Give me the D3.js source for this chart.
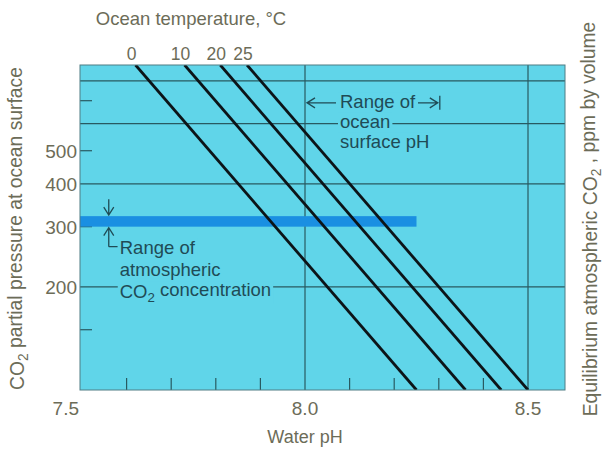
<!DOCTYPE html>
<html>
<head>
<meta charset="utf-8">
<script src="https://cdn.jsdelivr.net/npm/d3@7/dist/d3.min.js"></script>
<style>
  html, body { margin: 0; padding: 0; background: #ffffff; }
  svg { display: block; font-family: "Liberation Sans", Arial, Helvetica, sans-serif; }
</style>
</head>
<body>
<svg id="chart" width="604" height="451"></svg>
<script>
// ---------------- data ----------------
const temperatureLabels = ["0", "10", "20", "25"];
// pH at which each isotherm meets pCO2 = 890 (top edge) and pCO2 = 100 (bottom edge)
const phAtHighCO2 = [7.62, 7.73, 7.81, 7.87];
const phAtLowCO2  = [8.25, 8.36, 8.44, 8.50];
const co2High = 890;
const co2Low = 100;

const yTickLabels = [200, 300, 400, 500];
const yGridValues = [200, 400, 600, 800];
const yMinorTicks = [150, 300, 500, 700];

const xTickLabels = [7.5, 8.0, 8.5];
const xGridValues = [8.0, 8.5];
const xMinorTicks = [7.6, 7.7, 7.8, 7.9, 8.1, 8.2, 8.3, 8.4];

const atmosphericBand = [300, 322];   // ppm
const atmosphericBandPhEnd = 8.25;
const atmosphericArrowPh = 7.56;
const oceanPhRange = [8.0, 8.3];
const oceanArrowCO2 = 690;

// ---------------- layout ----------------
const svg = d3.select("#chart");
const frame = { left: 80, right: 565, top: 65, bottom: 390 };

const x = d3.scaleLinear().domain([7.5, 8.5]).range([82, 528]);
const y = d3.scaleLog().domain([co2Low, co2High]).range([frame.bottom, frame.top]);

const C = {
  fill: "#60d5e9",
  grid: "#285a61",
  band: "#1a8fe2",
  line: "#0c1418",
  note: "#1f4b56",
  label: "#6c6c58"
};

// background
svg.append("rect")
  .attr("x", frame.left).attr("y", frame.top)
  .attr("width", frame.right - frame.left).attr("height", frame.bottom - frame.top)
  .attr("fill", C.fill);

svg.append("clipPath").attr("id", "plotclip")
  .append("rect")
  .attr("x", frame.left).attr("y", frame.top)
  .attr("width", frame.right - frame.left).attr("height", frame.bottom - frame.top);

const plot = svg.append("g").attr("clip-path", "url(#plotclip)");

// horizontal grid lines
plot.selectAll("line.hgrid").data(yGridValues).join("line")
  .attr("class", "hgrid")
  .attr("x1", frame.left).attr("x2", frame.right)
  .attr("y1", d => y(d)).attr("y2", d => y(d))
  .attr("stroke", C.grid).attr("stroke-width", 1.2);

// vertical grid lines
plot.selectAll("line.vgrid").data(xGridValues).join("line")
  .attr("class", "vgrid")
  .attr("x1", d => x(d)).attr("x2", d => x(d))
  .attr("y1", frame.top).attr("y2", frame.bottom)
  .attr("stroke", C.grid).attr("stroke-width", 1.2);

// minor ticks
plot.selectAll("line.ymin").data(yMinorTicks).join("line")
  .attr("x1", frame.left).attr("x2", frame.left + 12)
  .attr("y1", d => y(d)).attr("y2", d => y(d))
  .attr("stroke", C.grid).attr("stroke-width", 1.2);
plot.selectAll("line.xmin").data(xMinorTicks).join("line")
  .attr("x1", d => x(d)).attr("x2", d => x(d))
  .attr("y1", frame.bottom).attr("y2", frame.bottom - 12)
  .attr("stroke", C.grid).attr("stroke-width", 1.2);

// atmospheric CO2 band
plot.append("rect")
  .attr("x", frame.left)
  .attr("y", y(atmosphericBand[1]))
  .attr("width", x(atmosphericBandPhEnd) - frame.left)
  .attr("height", y(atmosphericBand[0]) - y(atmosphericBand[1]))
  .attr("fill", C.band);

// isotherm lines
const lineData = temperatureLabels.map((t, i) => ({
  t, pts: [[phAtHighCO2[i], co2High], [phAtLowCO2[i], co2Low]]
}));
const lineGen = d3.line().x(d => x(d[0])).y(d => y(d[1]));
plot.selectAll("path.iso").data(lineData).join("path")
  .attr("class", "iso")
  .attr("d", d => lineGen(d.pts))
  .attr("fill", "none").attr("stroke", C.line).attr("stroke-width", 2.8);

// frame border
svg.append("rect")
  .attr("x", frame.left).attr("y", frame.top)
  .attr("width", frame.right - frame.left).attr("height", frame.bottom - frame.top)
  .attr("fill", "none").attr("stroke", "#4f7d84").attr("stroke-width", 1);

// ---------------- annotations ----------------
const ann = svg.append("g").attr("fill", C.note).attr("font-size", 18.5);

function noteText(g, xPos, yPos, parts) {
  const t = g.append("text").attr("x", xPos).attr("y", yPos);
  let pendingDy = null;
  parts.forEach(p => {
    if (p.sub) {
      t.append("tspan").attr("font-size", "0.72em").attr("dy", "0.3em").text(p.text);
      pendingDy = "-0.3em";
    } else {
      const ts = t.append("tspan").text(p.text);
      if (pendingDy) { ts.attr("dy", pendingDy); pendingDy = null; }
    }
  });
  return t;
}
function withBackground(g, t) {
  const b = t.node().getBBox();
  g.insert("rect", () => t.node())
    .attr("x", b.x - 2).attr("y", b.y + 2)
    .attr("width", b.width + 4).attr("height", b.height - 3)
    .attr("fill", C.fill);
}

// ocean pH range
const oy = y(oceanArrowCO2);
const oceanG = ann.append("g");
[["Range of", 0], ["ocean", 1], ["surface pH", 2]].forEach(([s, i]) => {
  const t = noteText(oceanG, 340, oy + 5 + i * 20, [{ text: s }]);
  withBackground(oceanG, t);
});
const arrowStroke = { stroke: C.note, "stroke-width": 1.3, fill: "none" };
function applyAttrs(sel, o) { Object.entries(o).forEach(([k, v]) => sel.attr(k, v)); return sel; }
applyAttrs(ann.append("path").attr("d",
  `M${x(oceanPhRange[0]) + 2},${oy} L${336},${oy}
   M${x(oceanPhRange[0]) + 10},${oy - 5} L${x(oceanPhRange[0]) + 2},${oy} L${x(oceanPhRange[0]) + 10},${oy + 5}`), arrowStroke);
applyAttrs(ann.append("path").attr("d",
  `M${418},${oy} L${x(oceanPhRange[1]) - 1},${oy}
   M${x(oceanPhRange[1]) - 9},${oy - 5} L${x(oceanPhRange[1]) - 1},${oy} L${x(oceanPhRange[1]) - 9},${oy + 5}
   M${x(oceanPhRange[1]) + 1},${oy - 7} L${x(oceanPhRange[1]) + 1},${oy + 7}`), arrowStroke);

// atmospheric range
const ax = x(atmosphericArrowPh);
const bandTop = y(atmosphericBand[1]);
const bandBot = y(atmosphericBand[0]);
applyAttrs(ann.append("path").attr("d",
  `M${ax},${bandTop - 17} L${ax},${bandTop - 1}
   M${ax - 5},${bandTop - 9} L${ax},${bandTop - 1} L${ax + 5},${bandTop - 9}`), arrowStroke);
applyAttrs(ann.append("path").attr("d",
  `M${ax},${bandBot + 20} L${ax},${bandBot + 1}
   M${ax - 5},${bandBot + 9} L${ax},${bandBot + 1} L${ax + 5},${bandBot + 9}
   M${ax},${bandBot + 20} L${ax + 9},${bandBot + 20}`), arrowStroke);
const atmG = ann.append("g");
[[[{ text: "Range of" }], 0], [[{ text: "atmospheric" }], 1],
 [[{ text: "CO" }, { text: "2", sub: true }, { text: " concentration" }], 2]].forEach(([parts, i]) => {
  const t = noteText(atmG, ax + 11, bandBot + 27 + i * 22, parts);
  withBackground(atmG, t);
});

// ---------------- axis labels ----------------
const lab = svg.append("g").attr("fill", C.label);

lab.selectAll("text.ylab").data(yTickLabels).join("text")
  .attr("font-size", 19)
  .attr("x", frame.left - 3).attr("y", d => y(d) + 7)
  .attr("text-anchor", "end").text(d => d);

lab.selectAll("text.xlab").data(xTickLabels).join("text")
  .attr("font-size", 19)
  .attr("x", (d, i) => i === 0 ? frame.left - 1 : x(d)).attr("y", frame.bottom + 25)
  .attr("text-anchor", (d, i) => i === 0 ? "end" : "middle").text(d => d.toFixed(1));

lab.selectAll("text.tlab").data(lineData).join("text")
  .attr("font-size", 17.5)
  .attr("x", (d, i) => x(phAtHighCO2[i]) - 4).attr("y", frame.top - 5)
  .attr("text-anchor", "middle").text(d => d.t);

lab.append("text").attr("font-size", 18.5).attr("x", 191).attr("y", 25).attr("text-anchor", "middle")
  .text("Ocean temperature, \u00B0C");

lab.append("text").attr("font-size", 18).attr("x", x(8.0)).attr("y", 443)
  .attr("text-anchor", "middle").text("Water pH");

const leftT = lab.append("text").attr("font-size", 19.3)
  .attr("transform", `translate(24,${(frame.top + frame.bottom) / 2 + 1}) rotate(-90)`)
  .attr("text-anchor", "middle");
leftT.append("tspan").text("CO");
leftT.append("tspan").attr("font-size", "0.72em").attr("dy", "0.3em").text("2");
leftT.append("tspan").attr("dy", "-0.3em").text(" partial pressure at ocean surface");

const rightT = lab.append("text").attr("font-size", 19.3)
  .attr("transform", `translate(597,219) rotate(-90)`)
  .attr("text-anchor", "middle");
rightT.append("tspan").text("Equilibrium atmospheric CO");
rightT.append("tspan").attr("font-size", "0.72em").attr("dy", "0.3em").text("2");
rightT.append("tspan").attr("dy", "-0.3em").text(" , ppm by volume");
</script>
</body>
</html>
